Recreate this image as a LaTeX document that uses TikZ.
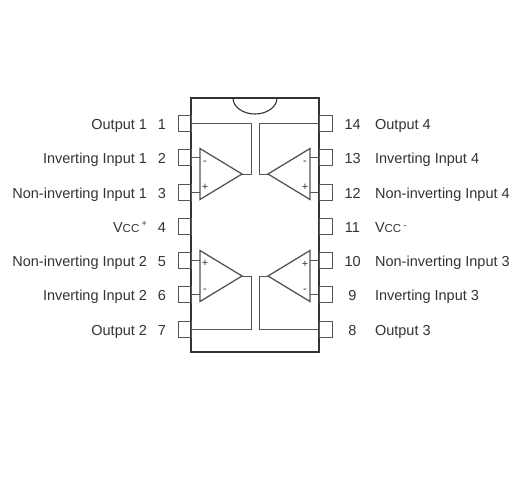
\documentclass[tikz,border=0pt]{standalone}
\usepackage{fontspec}
\setmainfont{Liberation Sans}
\usepackage{xcolor}
\usetikzlibrary{positioning,shapes.geometric}
\definecolor{inkc}{HTML}{333333}
\definecolor{wirec}{HTML}{555555}
\tikzset{
  pinbox/.style={draw=wirec,line width=1pt,minimum width=13pt,minimum height=16pt,inner sep=0pt,outer sep=0pt},
  pinnum/.style={minimum width=16pt,inner sep=0pt,outer sep=0pt,text height=10pt,text depth=0pt,yshift=-1pt},
  pinname/.style={inner sep=0pt,outer sep=0pt,text height=10pt,text depth=0pt},
  opamp/.style={draw=wirec,line width=1.3pt,isosceles triangle,isosceles triangle stretches,minimum height=42pt,minimum width=51pt,inner sep=0pt,outer sep=0pt,anchor=lower side},
  sign/.style={inner sep=0pt,font=\fontsize{11}{11}\selectfont,text=inkc},
  wire/.style={draw=wirec,line width=1pt}
}
\begin{document}
\begin{tikzpicture}[x=1pt,y=-1pt,every node/.style={font=\fontsize{14.5}{16}\selectfont,text=inkc}]
\useasboundingbox (0,0) rectangle (530,480);
\node[draw=inkc,line width=1.3pt,minimum width=128pt,minimum height=254pt,inner sep=0pt,outer sep=0pt] (body) at (255,225) {};
\draw[draw=inkc,line width=1.1pt] (body.north) ++(-22,0) arc[start angle=180,end angle=0,x radius=22,y radius=16];
% left pins
\node[pinbox] (pin1) at (184.5,123) {};
\node[pinbox] (pin2) at (184.5,157) {};
\node[pinbox] (pin3) at (184.5,192) {};
\node[pinbox] (pin4) at (184.5,226) {};
\node[pinbox] (pin5) at (184.5,260) {};
\node[pinbox] (pin6) at (184.5,294) {};
\node[pinbox] (pin7) at (184.5,329) {};
\node[pinnum,left=8pt of pin1] (num1) {1};
\node[pinnum,left=8pt of pin2] (num2) {2};
\node[pinnum,left=8pt of pin3] (num3) {3};
\node[pinnum,left=8pt of pin4] (num4) {4};
\node[pinnum,left=8pt of pin5] (num5) {5};
\node[pinnum,left=8pt of pin6] (num6) {6};
\node[pinnum,left=8pt of pin7] (num7) {7};
\node[pinname,left=7pt of num1] (name1) {Output 1};
\node[pinname,left=7pt of num2] (name2) {Inverting Input 1};
\node[pinname,left=7pt of num3] (name3) {Non-inverting Input 1};
\node[pinname,left=7pt of num4] (name4) {V{\fontsize{11.5}{12}\selectfont CC}\,\raisebox{6pt}{\fontsize{9}{9}\selectfont +}};
\node[pinname,left=7pt of num5] (name5) {Non-inverting Input 2};
\node[pinname,left=7pt of num6] (name6) {Inverting Input 2};
\node[pinname,left=7pt of num7] (name7) {Output 2};
% right pins
\node[pinbox] (pin14) at (325.5,123) {};
\node[pinbox] (pin13) at (325.5,157) {};
\node[pinbox] (pin12) at (325.5,192) {};
\node[pinbox] (pin11) at (325.5,226) {};
\node[pinbox] (pin10) at (325.5,260) {};
\node[pinbox] (pin9) at (325.5,294) {};
\node[pinbox] (pin8) at (325.5,329) {};
\node[pinnum,right=12.5pt of pin14] (num14) {14};
\node[pinnum,right=12.5pt of pin13] (num13) {13};
\node[pinnum,right=12.5pt of pin12] (num12) {12};
\node[pinnum,right=12.5pt of pin11] (num11) {11};
\node[pinnum,right=12.5pt of pin10] (num10) {10};
\node[pinnum,right=12.5pt of pin9] (num9) {9};
\node[pinnum,right=12.5pt of pin8] (num8) {8};
\node[pinname,right=14.5pt of num14] (name14) {Output 4};
\node[pinname,right=14.5pt of num13] (name13) {Inverting Input 4};
\node[pinname,right=14.5pt of num12] (name12) {Non-inverting Input 4};
\node[pinname,right=14.5pt of num11] (name11) {V{\fontsize{11.5}{12}\selectfont CC}\,\raisebox{4pt}{\fontsize{9}{9}\selectfont -}};
\node[pinname,right=14.5pt of num10] (name10) {Non-inverting Input 3};
\node[pinname,right=14.5pt of num9] (name9) {Inverting Input 3};
\node[pinname,right=14.5pt of num8] (name8) {Output 3};
% amplifiers
\node[opamp] (amp1) at (200,174) {};
\node[opamp] (amp2) at (200,276) {};
\node[opamp,shape border rotate=180] (amp4) at (310,174) {};
\node[opamp,shape border rotate=180] (amp3) at (310,276) {};
\node[sign] (minus1) at (205,163) {-};
\node[sign] (plus1) at (205,187) {+};
\node[sign] (plus2) at (205,263) {+};
\node[sign] (minus2) at (205,291) {-};
\node[sign] (minus4) at (305,163) {-};
\node[sign] (plus4) at (305,187) {+};
\node[sign] (plus3) at (305,264) {+};
\node[sign] (minus3) at (305,291) {-};
% wires
\draw[wire] (pin2.east)--(amp1.lower side |- pin2.east);
\draw[wire] (pin3.east)--(amp1.lower side |- pin3.east);
\draw[wire] (pin5.east)--(amp2.lower side |- pin5.east);
\draw[wire] (pin6.east)--(amp2.lower side |- pin6.east);
\draw[wire] (pin13.west)--(amp4.lower side |- pin13.west);
\draw[wire] (pin12.west)--(amp4.lower side |- pin12.west);
\draw[wire] (pin10.west)--(amp3.lower side |- pin10.west);
\draw[wire] (pin9.west)--(amp3.lower side |- pin9.west);
\draw[wire] (amp1.apex)--++(9,0)|-(pin1.east);
\draw[wire] (amp2.apex)--++(9,0)|-(pin7.east);
\draw[wire] (amp4.apex)--++(-9,0)|-(pin14.west);
\draw[wire] (amp3.apex)--++(-9,0)|-(pin8.west);
\end{tikzpicture}
\end{document}
